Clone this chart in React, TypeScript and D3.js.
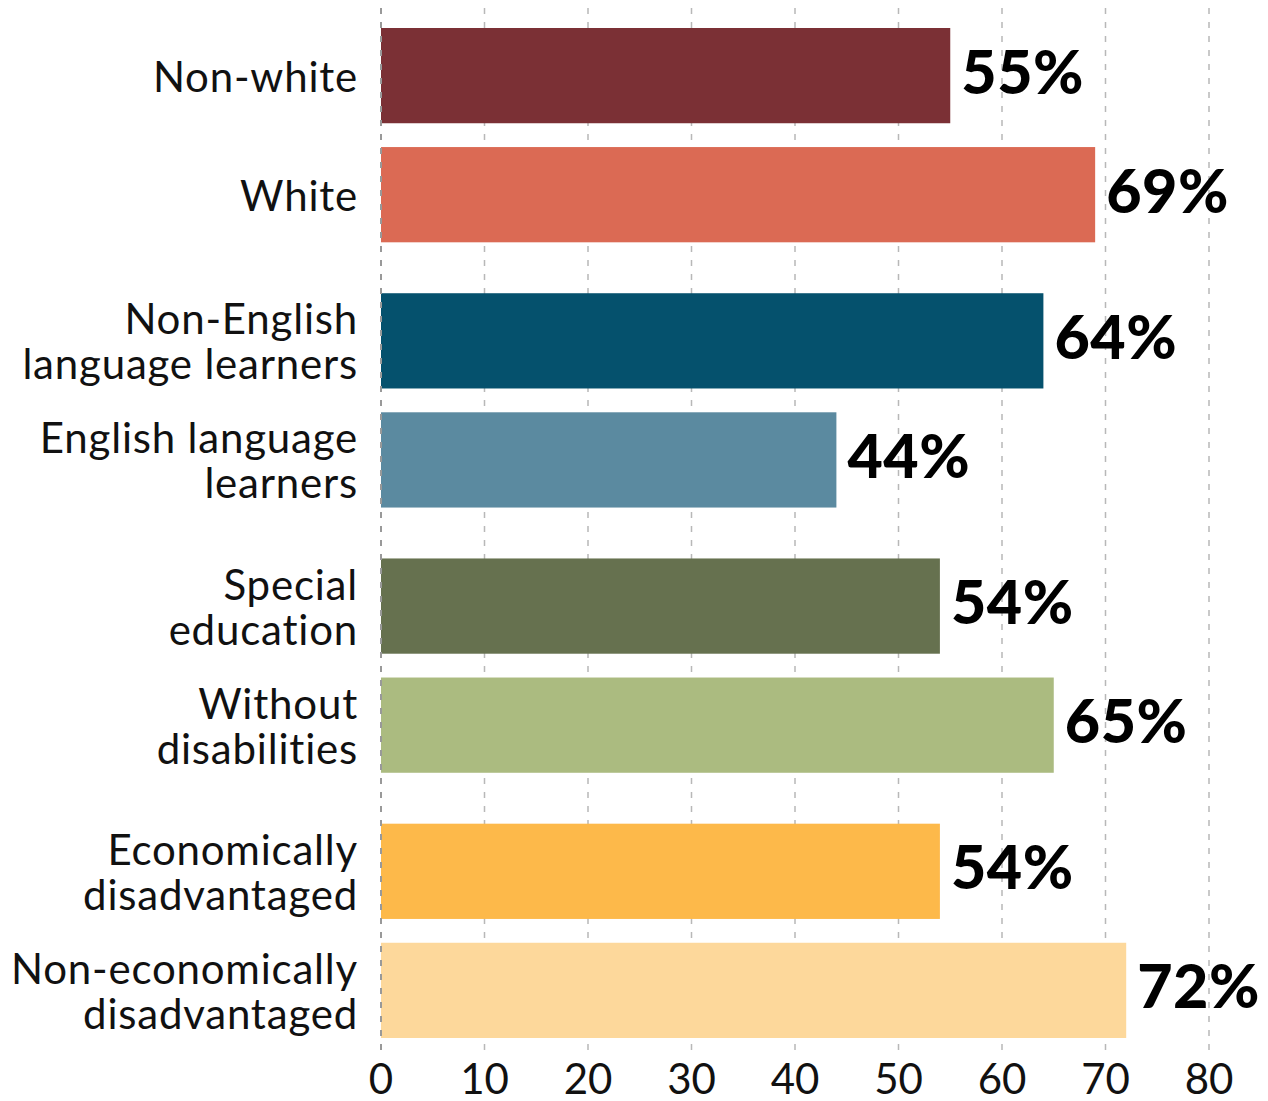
import React from "react";
import * as d3 from "d3";

const categories: string[][] = [
  ["Non-white"],
  ["White"],
  ["Non-English", "language learners"],
  ["English language", "learners"],
  ["Special", "education"],
  ["Without", "disabilities"],
  ["Economically", "disadvantaged"],
  ["Non-economically", "disadvantaged"],
];
const values: number[] = [55, 69, 64, 44, 54, 65, 54, 72];
const colors: string[] = [
  "#7B3035",
  "#DB6A54",
  "#05516D",
  "#5B8AA0",
  "#66714F",
  "#ABBB80",
  "#FDB94A",
  "#FDD89B",
];
const groups: number[] = [0, 1, 2, 3];
const ticks: number[] = [0, 10, 20, 30, 40, 50, 60, 70, 80];

const W = 1268;
const H = 1101;

export default function App() {
  const x = d3.scaleLinear().domain([0, 80]).range([381, 1209]);
  const gy = d3
    .scaleBand<number>()
    .domain(groups)
    .range([28, 1038])
    .paddingInner(0.192)
    .paddingOuter(0);
  const iy = d3
    .scaleBand<number>()
    .domain([0, 1])
    .range([0, gy.bandwidth()])
    .paddingInner(0.2)
    .paddingOuter(0);
  const barY = (i: number) => (gy(Math.floor(i / 2)) as number) + (iy(i % 2) as number);
  const bh = iy.bandwidth();
  const font = "Lato, 'Open Sans', sans-serif";
  const lineH = 45;

  return (
    <svg
      width={W}
      height={H}
      style={{ position: "absolute", left: 0, top: 0, background: "#fff" }}
    >
      {ticks.slice(1).map((t) => (
        <line
          key={"g" + t}
          x1={x(t)}
          x2={x(t)}
          y1={8}
          y2={1052}
          stroke="#b8b8b8"
          strokeWidth={1.5}
          strokeDasharray="6,8"
        />
      ))}
      {values.map((v, i) => (
        <rect
          key={"b" + i}
          x={x(0)}
          y={barY(i)}
          width={x(v) - x(0)}
          height={bh}
          fill={colors[i]}
        />
      ))}
      <line
        x1={x(0)}
        x2={x(0)}
        y1={8}
        y2={1052}
        stroke="#999"
        strokeWidth={2}
        strokeDasharray="6,8"
      />
      {values.map((v, i) => (
        <text
          key={"v" + i}
          x={x(v) + 11}
          y={barY(i) + bh / 2 + 18}
          fontFamily={font}
          fontWeight={900}
          fontSize={61}
          letterSpacing={0.5}
          fill="#000"
        >
          {v}%
        </text>
      ))}
      {categories.map((lines, i) => {
        const cy = barY(i) + bh / 2;
        const start = cy - ((lines.length - 1) * lineH) / 2;
        return (
          <text
            key={"c" + i}
            x={358}
            textAnchor="end"
            fontFamily={font}
            fontSize={42}
            letterSpacing={0.8}
            fill="#111"
          >
            {lines.map((l, j) => (
              <tspan key={j} x={358} y={start + j * lineH + 16}>
                {l}
              </tspan>
            ))}
          </text>
        );
      })}
      {ticks.map((t) => (
        <text
          key={"t" + t}
          x={x(t)}
          y={1094}
          textAnchor="middle"
          fontFamily={font}
          fontSize={42}
          fill="#111"
        >
          {t}
        </text>
      ))}
    </svg>
  );
}
